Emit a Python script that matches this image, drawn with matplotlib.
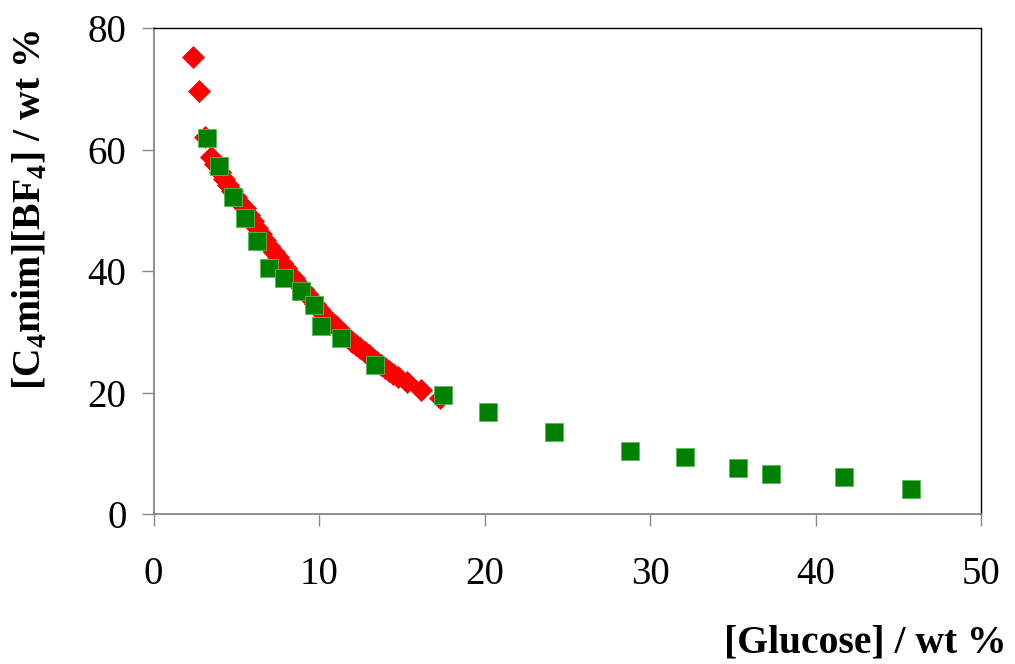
import matplotlib
matplotlib.use("Agg")
import matplotlib.pyplot as plt

# Red diamonds (binodal data)
red_x = [2.4, 2.76, 3.1, 3.45, 3.7, 4.0, 4.25, 4.5, 4.75, 5.0, 5.25, 5.5, 5.75,
         6.0, 6.25, 6.5, 6.75, 7.0, 7.25, 7.5, 7.75, 8.0, 8.25, 8.5, 8.75,
         9.0, 9.25, 9.5, 9.75, 10.0, 10.25, 10.5, 10.75, 11.0, 11.25, 11.5,
         11.75, 12.0, 12.25, 12.5, 12.75, 13.0, 13.25, 13.5, 13.75, 14.0,
         14.2, 14.45, 14.8, 15.3, 16.15, 17.3]
red_y = [75.3, 69.7, 62.1, 58.8, 57.6, 56.3, 55.2, 54.2, 53.2, 52.3, 51.3, 50.4, 49.3,
         48.3, 47.2, 46.2, 45.2, 44.2, 43.2, 42.3, 41.4, 40.5, 39.6, 38.8, 37.9,
         37.1, 36.2, 35.4, 34.6, 33.8, 33.0, 32.3, 31.6, 30.9, 30.2, 29.6,
         29.0, 28.4, 27.8, 27.3, 26.7, 26.2, 25.6, 25.1, 24.5, 24.0,
         23.6, 23.1, 22.5, 21.8, 20.5, 19.1]

# Green squares
green_x = [3.2, 3.93, 4.78, 5.5, 6.23, 6.95, 7.9, 8.9, 9.67, 10.1, 11.3, 13.4,
           17.47, 20.19, 24.19, 28.77, 32.13, 35.3, 37.3, 41.7, 45.77]
green_y = [62.0, 57.4, 52.3, 48.7, 44.9, 40.6, 38.8, 36.8, 34.5, 31.0, 29.0, 24.6,
           19.6, 16.8, 13.5, 10.3, 9.4, 7.6, 6.6, 6.05, 4.07]

x_ticks = [0, 10, 20, 30, 40, 50]
y_ticks = [0, 20, 40, 60, 80]

plt.rcParams['font.family'] = ['Liberation Serif', 'DejaVu Serif']
plt.rcParams['mathtext.fontset'] = 'custom'
plt.rcParams['mathtext.rm'] = 'Liberation Serif'
plt.rcParams['mathtext.bf'] = 'Liberation Serif:bold'

fig = plt.figure(figsize=(10.15, 6.64), dpi=100)
ax = fig.add_axes([0.1513, 0.2259, 0.8152, 0.7313])

ax.plot(red_x, red_y, linestyle='none', marker='D', markersize=11.5,
        color='#FF0000', markeredgecolor='#FF0000', markeredgewidth=0.5)
ax.plot(green_x, green_y, linestyle='none', marker='s', markersize=12.5,
        color='#008000', markeredgecolor='#5cb85c', markeredgewidth=0.6)

ax.set_xlim(0, 50)
ax.set_ylim(0, 80)
ax.set_xticks(x_ticks)
ax.set_yticks(y_ticks)

for s in ['left', 'bottom']:
    ax.spines[s].set_color('#868686')
    ax.spines[s].set_linewidth(1.3)
for s in ['top', 'right']:
    ax.spines[s].set_color('black')
    ax.spines[s].set_linewidth(1.0)

ax.tick_params(axis='both', direction='out', length=8.5, width=1.0,
               color='#868686', labelsize=28, labelcolor='black')
ax.tick_params(axis='x', pad=22)
ax.tick_params(axis='y', pad=11)

fig.text(1007/1015, 1 - 643/664, '[Glucose] / wt %', ha='right', va='center',
         fontsize=28.5, fontweight='bold')
fig.text(30/1015, 1 - 210/664, r'[C$_\mathregular{4}$mim][BF$_\mathregular{4}$] / wt %',
         ha='center', va='center', rotation=90, fontsize=28.5, fontweight='bold')

fig.savefig('out.png', dpi=100)
